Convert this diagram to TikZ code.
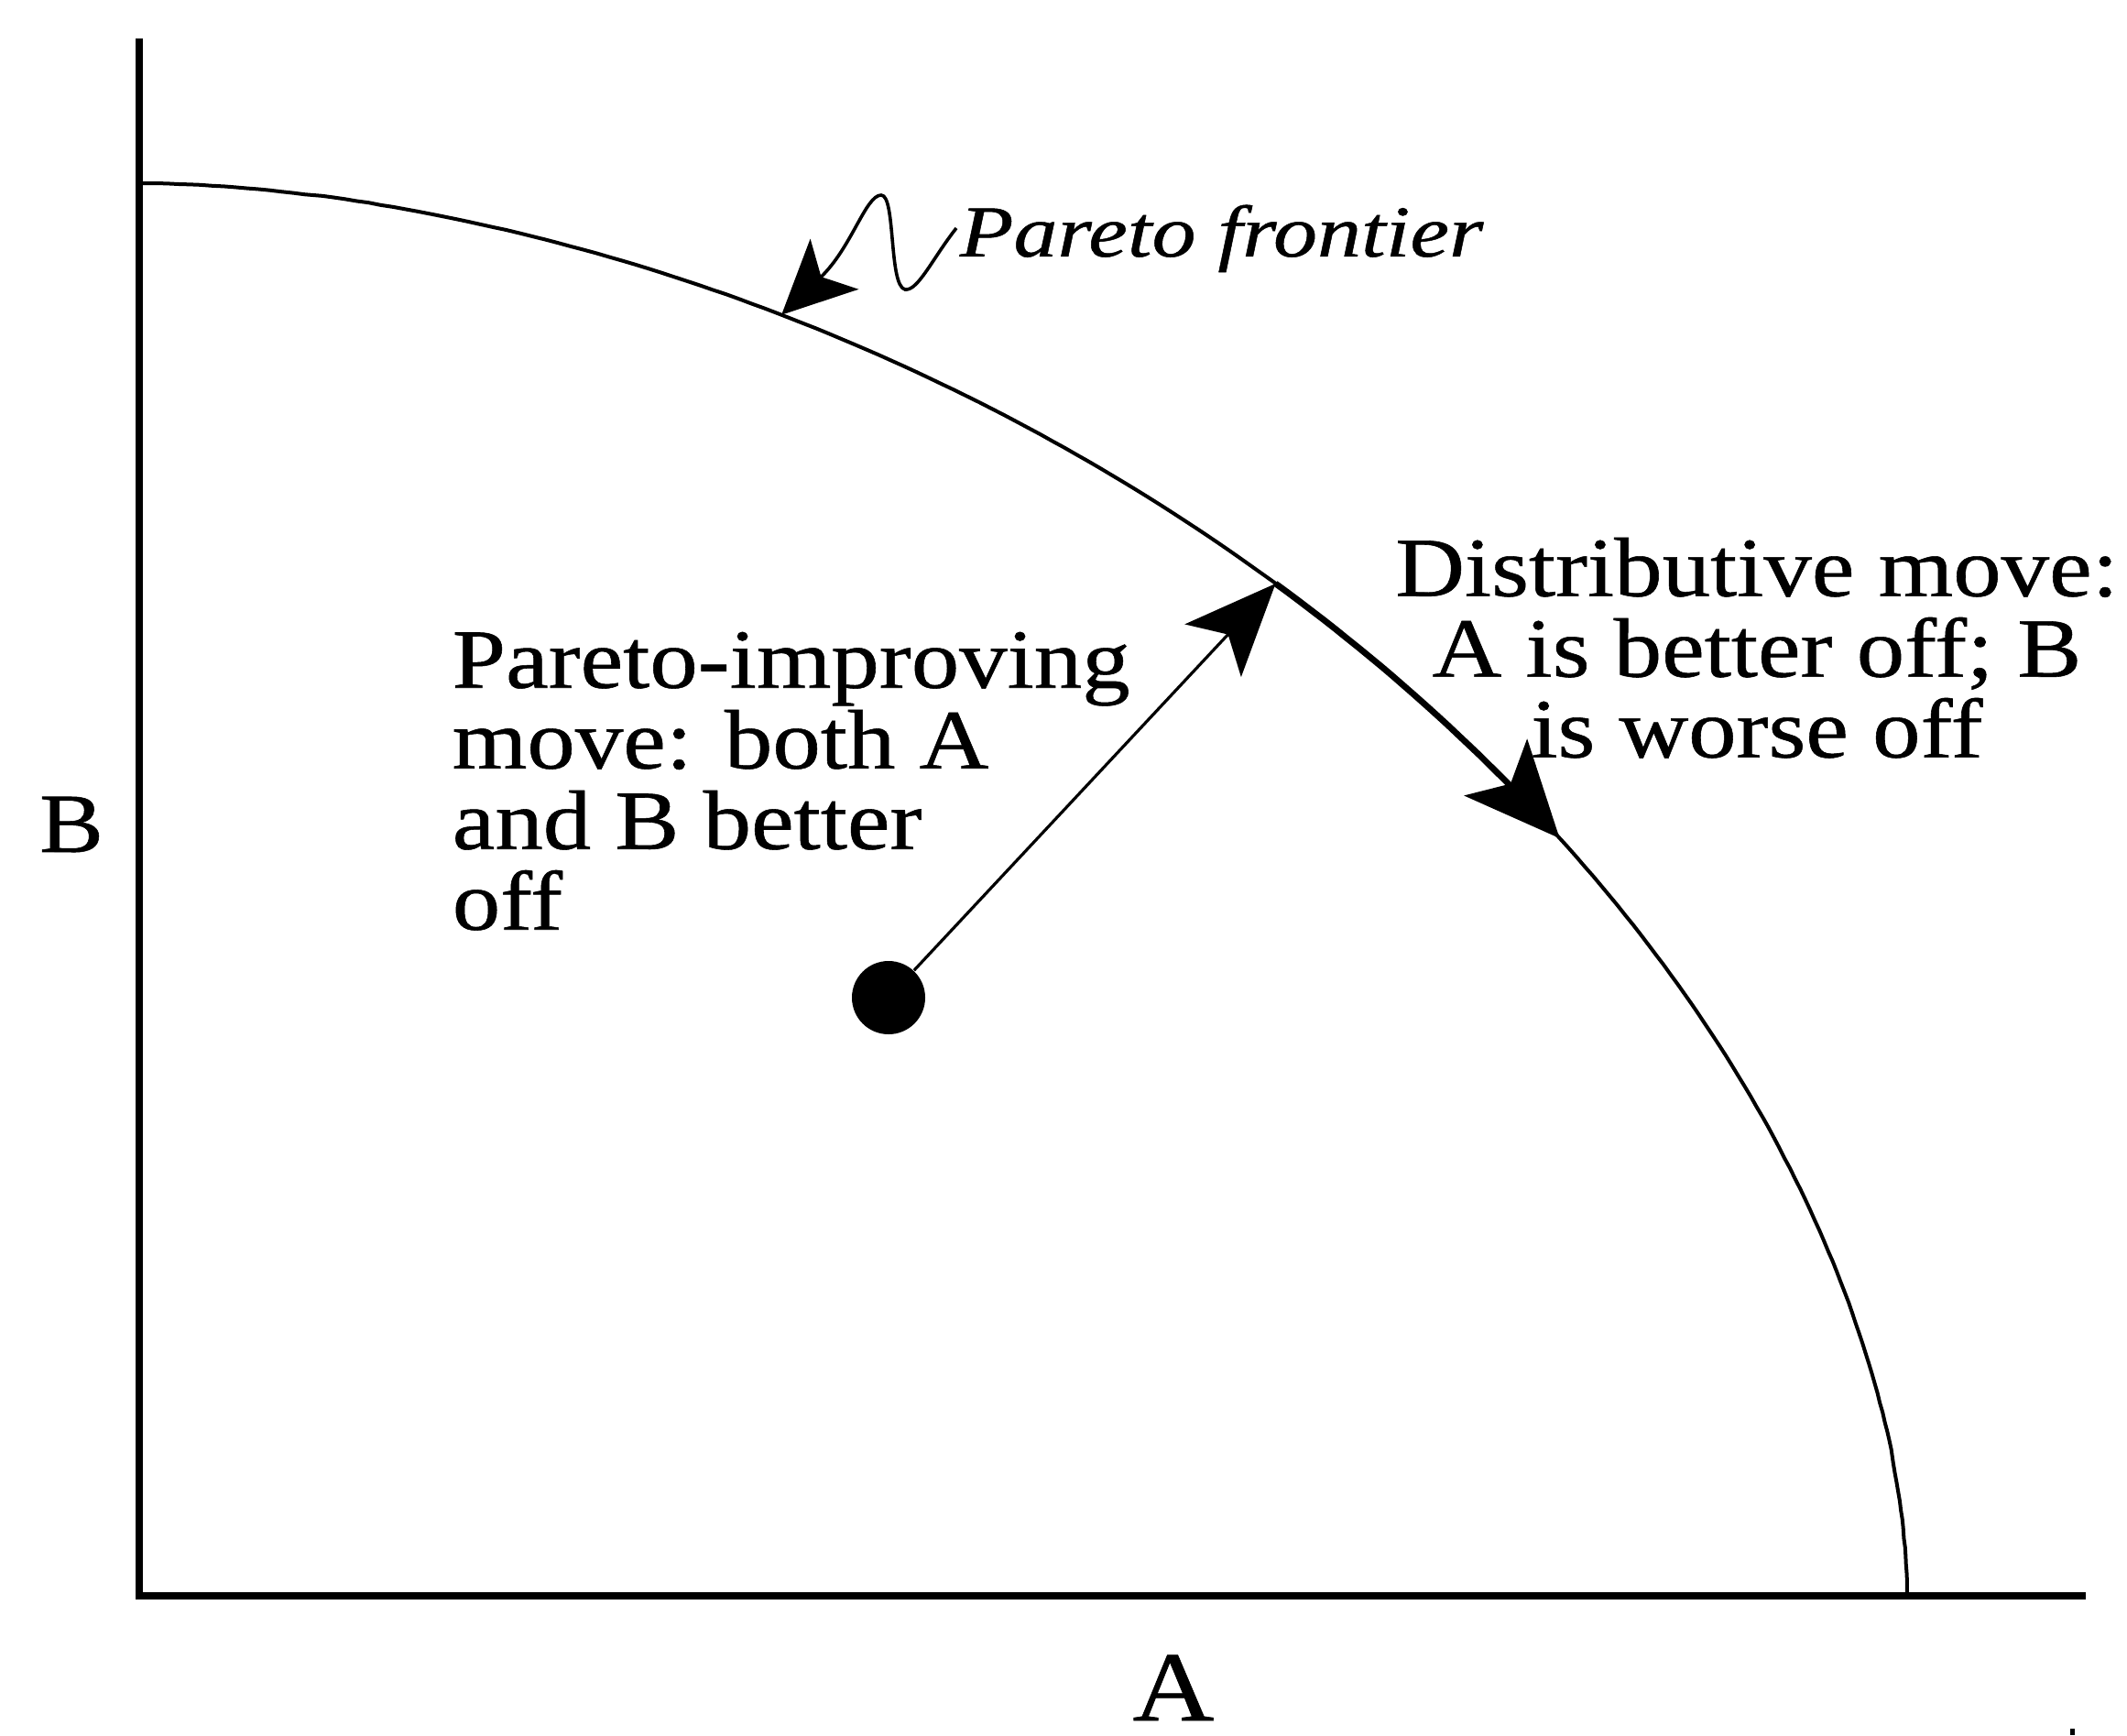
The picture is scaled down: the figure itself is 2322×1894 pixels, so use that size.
\documentclass[tikz,border=0pt]{standalone}
\usepackage{fontspec}
\setmainfont{Liberation Serif}[FakeStretch=1.14,FakeBold=0.6]
\newfontfamily\pfitfont{Liberation Serif}[FakeStretch=1.2,FakeBold=0.6]
\usetikzlibrary{arrows.meta}
\newcommand\pfX[1]{152+1930*(cos(#1))^1.111}
\newcommand\pfY[1]{1742-1542*(sin(#1))^1.111}
\tikzset{
  axisline/.style={line width=1.8pt},
  frontier/.style={line width=1pt},
  movearrow/.style={line width=0.8pt,-{Stealth[length=25pt,width=21pt,inset=6pt]}},
  distarrow/.style={line width=1.7pt,-{Stealth[length=26pt,width=23pt,inset=6pt]}},
  squig/.style={line width=0.9pt,-{Stealth[length=20pt,width=19pt,inset=5pt]}},
  lbl/.style={inner sep=0pt,font=\fontsize{23pt}{22pt}\selectfont},
  dotnode/.style={circle,fill=black,inner sep=0pt,minimum size=20pt},
}
\begin{document}
\begin{tikzpicture}[x=0.25pt,y=-0.25pt]
\useasboundingbox (0,0) rectangle (2322,1894);
% axes
\coordinate (O) at (152,1742);
\coordinate (ytop) at (152,42);
\coordinate (xend) at (2277,1742);
\draw[axisline] (ytop) -- (O) -- (xend);
% frontier
\draw[frontier] plot[domain=0.05:89.95,samples=200,variable=\t] ({\pfX{\t}},{\pfY{\t}});
% points on the frontier
\coordinate (P1) at ({\pfX{47.8}},{\pfY{47.8}});
\coordinate (PF) at ({\pfX{66.3}},{\pfY{66.3}});
% distributive move
\draw[distarrow] plot[domain=0:13,samples=27,variable=\t] ({\pfX{47.8-\t}},{\pfY{47.8-\t}});
% start point
\node[dotnode] (dot) at (970,1089) {};
\draw[movearrow] (dot) -- (P1);
% labels
\node[lbl,anchor=north west,align=left] (imp) at (493,689)
  {Pareto-improving\\move: both A\\and B better\\off};
\node[lbl,anchor=north,align=center] (dist) at (1918,586)
  {Distributive move:\\A is better off; B\\is worse off};
\node[inner sep=0pt,anchor=base west,font=\pfitfont\itshape\fontsize{20pt}{22pt}\selectfont] (pf) at (1047,280) {Pareto frontier};
\coordinate (sq) at (1044,249);
\draw[squig] (sq) .. controls (1018,282) and (1002,318) .. (988,316)
  .. controls (970,312) and (978,213) .. (962,213)
  .. controls (945,213) and (930,270) .. (PF);
\node[lbl,anchor=center] (blab) at (78,900) {B};
\node[inner sep=0pt,anchor=base,font=\fontsize{27pt}{30pt}\selectfont] (alab) at (1281,1878) {A};
\fill (2260,1887) rectangle (2265,1894);
\end{tikzpicture}
\end{document}
